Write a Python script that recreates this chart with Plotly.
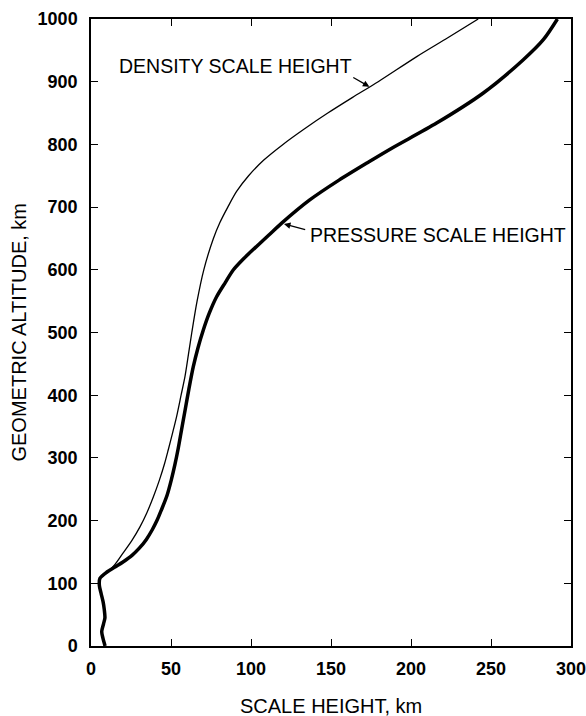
import plotly.graph_objects as go

# Pressure scale height (thick curve)
pressure_alt = [0, 12, 23, 35, 45, 58, 70, 85, 97, 108, 118, 126, 134, 145, 156, 170, 185, 200,
                217, 240, 265, 290, 315, 345, 376, 410, 445, 475, 504, 530, 557, 580, 600, 618,
                635, 655, 674, 711, 743, 772, 794, 834, 882, 935, 967, 1000]
pressure_h = [8.8, 7.5, 6.7, 7.8, 8.7, 8.3, 7.6, 6.2, 5.2, 5.6, 10, 15, 20, 25.8, 30.2, 34.6, 38.2, 41.2,
              44, 47.5, 50.2, 52.5, 54.5, 56.6, 58.8, 61.2, 63.9, 66.8, 70.2, 73.8, 78.5, 84, 89, 95.5,
              102.5, 111, 119, 136.5, 155, 173.5, 188, 216, 245.2, 270.2, 282.7, 291.5]

# Density scale height (thin curve)
density_alt = [108, 118, 130, 148, 168, 190, 213, 238, 265, 291, 313, 340, 366, 400, 430, 465, 500,
               550, 600, 650, 675, 700, 725, 750, 775, 800, 825, 850, 875, 900, 940, 970, 1000]
density_h = [5.6, 10.5, 15, 20, 25.5, 30.6, 35, 39, 42.8, 46, 48.3, 51, 53.5, 56.3, 58.75, 60.9, 63,
             66.3, 70.5, 76.5, 80.5, 85.5, 91, 98.5, 108, 120, 133.5, 148, 163.5, 179.5, 203.6, 223, 242]

x_ticks = [0, 50, 100, 150, 200, 250, 300]
y_ticks = [0, 100, 200, 300, 400, 500, 600, 700, 800, 900, 1000]

FONT = "Liberation Sans, Arial, Helvetica, sans-serif"

fig = go.Figure()
fig.add_trace(go.Scatter(x=density_h, y=density_alt, mode="lines",
                         line=dict(color="black", width=1.3, shape="spline", smoothing=0.8),
                         showlegend=False, hoverinfo="skip"))
fig.add_trace(go.Scatter(x=pressure_h, y=pressure_alt, mode="lines",
                         line=dict(color="black", width=3.5, shape="spline", smoothing=0.8),
                         showlegend=False, hoverinfo="skip"))

# curve labels
fig.add_annotation(x=90, y=925, text="DENSITY SCALE HEIGHT", showarrow=False,
                   font=dict(family=FONT, size=19.5, color="black"), xanchor="center", yanchor="middle")
fig.add_annotation(x=217, y=656, text="PRESSURE SCALE HEIGHT", showarrow=False,
                   font=dict(family=FONT, size=19.5, color="black"), xanchor="center", yanchor="middle")
# arrows
fig.add_annotation(x=174, y=892, ax=163, ay=908, xref="x", yref="y", axref="x", ayref="y",
                   text="", showarrow=True, arrowhead=2, arrowsize=1, arrowwidth=1.3, arrowcolor="black")
fig.add_annotation(x=120.6, y=673, ax=134.8, ay=663.5, xref="x", yref="y", axref="x", ayref="y",
                   text="", showarrow=True, arrowhead=2, arrowsize=1, arrowwidth=1.3, arrowcolor="black")

# axis titles
fig.add_annotation(x=0.5, y=-0.0957, xref="paper", yref="paper", text="SCALE HEIGHT, km",
                   showarrow=False, font=dict(family=FONT, size=20, color="black"),
                   xanchor="center", yanchor="middle")
fig.add_annotation(x=-0.152, y=0.5, xref="paper", yref="paper", text="GEOMETRIC ALTITUDE, km",
                   showarrow=False, textangle=-90, font=dict(family=FONT, size=20, color="black"),
                   xanchor="center", yanchor="middle")

axis_common = dict(showgrid=False, zeroline=False, showline=True, linecolor="black", linewidth=1.5,
                   mirror="ticks", ticks="inside", ticklen=7, tickwidth=1.3, tickcolor="black",
                   automargin=False, ticklabeloverflow="allow",
                   tickfont=dict(family=FONT, size=18, color="black", weight="bold"))

fig.update_xaxes(range=[0, 300], tickvals=x_ticks, ticktext=[str(v) for v in x_ticks],
                 ticklabelstandoff=6, **axis_common)
fig.update_yaxes(range=[0, 1000], tickvals=y_ticks, ticktext=[str(v) for v in y_ticks],
                 ticklabelstandoff=8, **axis_common)

fig.update_layout(width=586, height=716, margin=dict(l=91, r=15, t=19, b=70),
                  plot_bgcolor="white", paper_bgcolor="white", font=dict(family=FONT))

fig.write_html("out.html", config={"displayModeBar": False},
               post_script="document.body.style.margin='0';document.body.style.overflow='hidden';")
